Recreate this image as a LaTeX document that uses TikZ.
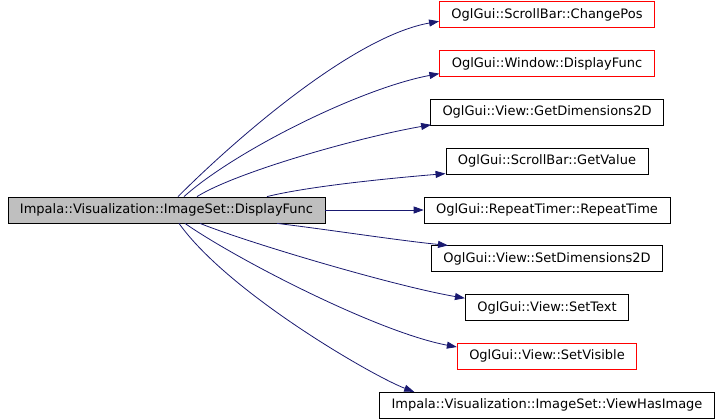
\documentclass[tikz,border=0pt]{standalone}
\usepackage{fontspec}
\setmainfont{DejaVu Sans}
\usetikzlibrary{positioning, arrows.meta}
\definecolor{callblue}{HTML}{191970}
\tikzstyle{func} = [rectangle, minimum height=26pt, inner xsep=12pt, inner ysep=0pt, text centered, draw=black, line width=0.8pt, font=\fontsize{13}{15}\selectfont]
\tikzstyle{func_red} = [func, draw=red]
\tikzstyle{func_main} = [func, fill=black!25]
\tikzstyle{arrow} = [line width=0.8pt, draw=callblue, -{Triangle[length=10pt,width=7pt]}]

\begin{document}
\begin{tikzpicture}[x=1pt, y=-1pt, node distance=22pt]
		\useasboundingbox (0,0) rectangle (722,418);
		\node (main) [func_main] at (166.5,210) {Impala::Visualization::ImageSet::DisplayFunc};
		\node (repeat_time) [func] at (547,210) {OglGui::RepeatTimer::RepeatTime};
		\node (get_value) [func, above=of repeat_time] {OglGui::ScrollBar::GetValue};
		\node (get_dims) [func, above=of get_value] {OglGui::View::GetDimensions2D};
		\node (window_display) [func_red, above=of get_dims] {OglGui::Window::DisplayFunc};
		\node (change_pos) [func_red, above=of window_display] {OglGui::ScrollBar::ChangePos};
		\node (set_dims) [func, below=of repeat_time] {OglGui::View::SetDimensions2D};
		\node (set_text) [func, below=of set_dims] {OglGui::View::SetText};
		\node (set_visible) [func_red, below=of set_text] {OglGui::View::SetVisible};
		\node (view_has_image) [func, below=of set_visible] {Impala::Visualization::ImageSet::ViewHasImage};

		\draw [arrow] ([xshift=11.5pt]main.north) .. controls +(60,-60) and +(-85,15) .. ([yshift=-6.5pt]change_pos.west);
		\draw [arrow] ([xshift=17.5pt]main.north) .. controls +(50,-45) and +(-80,15) .. ([yshift=-10pt]window_display.west);
		\draw [arrow] ([xshift=30.5pt]main.north) .. controls +(40,-25) and +(-70,12) .. ([xshift=1pt,yshift=1pt]get_dims.south west);
		\draw [arrow] ([xshift=100.5pt]main.north) .. controls +(40,-10) and +(-60,5) .. ([yshift=1pt]get_value.south west);
		\draw [arrow] (main.east) -- (repeat_time.west);
		\draw [arrow] ([xshift=110.5pt]main.south) .. controls +(50,6) and +(-50,-5) .. ([xshift=17pt]set_dims.north west);
		\draw [arrow] ([xshift=33.5pt]main.south) .. controls +(50,20) and +(-70,-12) .. ([yshift=-4pt]set_text.north west);
		\draw [arrow] ([xshift=18.5pt]main.south) .. controls +(50,35) and +(-80,-15) .. ([yshift=-4pt]set_visible.north west);
		\draw [arrow] ([xshift=12.5pt]main.south) .. controls +(50,70) and +(-40,-15) .. ([xshift=35pt]view_has_image.north west);
\end{tikzpicture}
\end{document}
